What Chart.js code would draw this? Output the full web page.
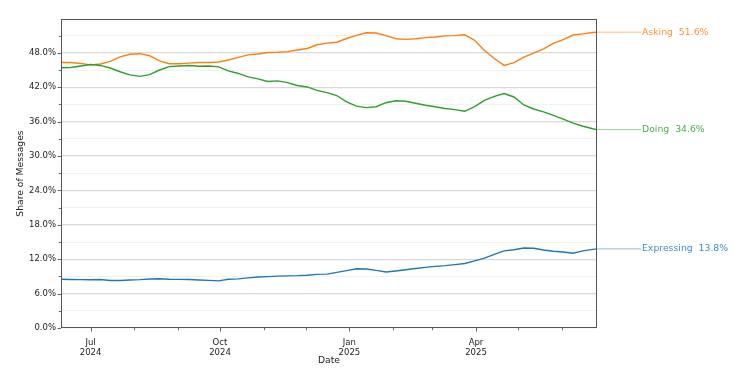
<!DOCTYPE html>
<html><head><meta charset="utf-8">
<style>html,body{margin:0;padding:0;background:#fff}#wrap{width:740px;height:377px}</style>
<script src="https://cdn.jsdelivr.net/npm/chart.js@4.4.1/dist/chart.umd.min.js"></script>
</head><body><div id="wrap"><canvas id="c" width="740" height="377"></canvas></div>
<script>
const dates = [
 '2024-06-10','2024-06-17','2024-06-24','2024-07-01','2024-07-08','2024-07-15','2024-07-22','2024-07-29',
 '2024-08-05','2024-08-12','2024-08-19','2024-08-26','2024-09-02','2024-09-09','2024-09-16','2024-09-23','2024-09-30',
 '2024-10-07','2024-10-14','2024-10-21','2024-10-28','2024-11-04','2024-11-11','2024-11-18','2024-11-25',
 '2024-12-02','2024-12-09','2024-12-16','2024-12-23','2024-12-30','2025-01-06','2025-01-13','2025-01-20','2025-01-27',
 '2025-02-03','2025-02-10','2025-02-17','2025-02-24','2025-03-03','2025-03-10','2025-03-17','2025-03-24','2025-03-31',
 '2025-04-07','2025-04-14','2025-04-21','2025-04-28','2025-05-05','2025-05-12','2025-05-19','2025-05-26',
 '2025-06-02','2025-06-09','2025-06-16','2025-06-23','2025-06-26'
];
const asking = [
 46.3,46.3,46.15,45.9,46.05,46.5,47.3,47.75,47.85,47.5,
 46.6,46.1,46.1,46.2,46.3,46.3,46.4,46.75,47.2,47.65,
 47.8,48.05,48.1,48.2,48.5,48.75,49.4,49.7,49.85,50.5,
 51.05,51.5,51.45,51.0,50.45,50.35,50.45,50.65,50.75,50.95,
 51.0,51.15,50.2,48.4,47.0,45.8,46.3,47.25,47.95,48.7,
 49.65,50.3,51.1,51.3,51.55,51.6
];
const doing = [
 45.4,45.45,45.7,45.95,45.8,45.35,44.7,44.15,43.9,44.2,
 45.0,45.6,45.7,45.8,45.65,45.7,45.55,44.85,44.4,43.8,
 43.45,43.0,43.1,42.8,42.3,42.05,41.45,41.05,40.55,39.45,
 38.7,38.45,38.6,39.3,39.65,39.55,39.2,38.85,38.6,38.3,
 38.1,37.8,38.6,39.7,40.4,40.9,40.3,38.9,38.2,37.7,
 37.1,36.45,35.75,35.2,34.75,34.6
];
const expressing = [
 8.5,8.45,8.43,8.42,8.45,8.28,8.28,8.38,8.44,8.55,
 8.58,8.5,8.48,8.45,8.38,8.3,8.22,8.5,8.57,8.75,
 8.9,8.97,9.05,9.1,9.13,9.2,9.35,9.4,9.7,10.0,
 10.33,10.28,10.05,9.78,9.95,10.15,10.37,10.57,10.75,10.88,
 11.05,11.25,11.7,12.2,12.85,13.45,13.65,13.95,13.9,13.6,
 13.4,13.25,13.05,13.45,13.72,13.8
];
const seriesNames = ['Asking','Doing','Expressing'];
const seriesColors = ['#ff7f0e','#2ca02c','#1f77b4'];
const seriesFaded = ['rgba(255,127,14,0.55)','rgba(44,160,44,0.55)','rgba(31,119,180,0.55)'];
const seriesText = ['rgba(255,127,14,0.85)','rgba(44,160,44,0.85)','rgba(31,119,180,0.85)'];
const yTickValues = [0,3,6,9,12,15,18,21,24,27,30,33,36,39,42,45,48,51];
const monthNames = ['Jan','Feb','Mar','Apr','May','Jun','Jul','Aug','Sep','Oct','Nov','Dec'];
const DAY = 86400000;
const toDay = s => { const [Y,M,D] = s.split('-').map(Number); return Date.UTC(Y,M-1,D)/DAY; };
const xs = dates.map(toDay);
const xMin = xs[0], xMax = xs[xs.length-1];
const monthTicks = [];
for (let y = 2024; y <= 2025; y++) for (let m = 0; m < 12; m++) {
  const d = Date.UTC(y,m,1)/DAY;
  if (d >= xMin && d <= xMax) monthTicks.push({value: d, month: m, year: y});
}
const allSeries = [asking, doing, expressing];
const FONT = 'DejaVu Sans';

const framePlugin = {
  id: 'frame',
  afterDraw(chart) {
    const {ctx, chartArea: a, scales: {x, y}} = chart;
    ctx.save();
    ctx.strokeStyle = '#444'; ctx.lineWidth = 0.8;
    ctx.beginPath();
    monthTicks.forEach(t => {
      const px = Math.round(x.getPixelForValue(t.value)) + 0.5;
      const len = (t.month % 3 === 0) ? 3.5 : 2.2;
      ctx.moveTo(px, a.bottom); ctx.lineTo(px, a.bottom + len);
    });
    yTickValues.forEach(v => {
      const py = Math.round(y.getPixelForValue(v)) + 0.5;
      const len = (v % 6 === 0) ? 3.5 : 2.2;
      ctx.moveTo(a.left, py); ctx.lineTo(a.left - len, py);
    });
    ctx.stroke();
    ctx.strokeStyle = '#555'; ctx.lineWidth = 1;
    ctx.strokeRect(Math.round(a.left)+0.5, Math.round(a.top)+0.5, Math.round(a.width)-1, Math.round(a.height)-1);
    // end labels
    ctx.font = '9.3px "' + FONT + '"';
    ctx.textBaseline = 'middle'; ctx.textAlign = 'left';
    allSeries.forEach((s, i) => {
      const v = s[s.length-1];
      const py = y.getPixelForValue(v);
      ctx.strokeStyle = seriesFaded[i]; ctx.lineWidth = 0.9;
      ctx.beginPath(); ctx.moveTo(a.right, py); ctx.lineTo(a.right + 44, py); ctx.stroke();
      ctx.fillStyle = seriesText[i];
      ctx.fillText(seriesNames[i] + '  ' + v.toFixed(1) + '%', a.right + 45, py);
    });
    ctx.restore();
  }
};

new Chart(document.getElementById('c'), {
  type: 'line',
  data: {
    datasets: allSeries.map((s, i) => ({
      label: seriesNames[i],
      data: s.map((v, j) => ({x: xs[j], y: v})),
      borderColor: seriesColors[i],
      borderWidth: 1.4,
      pointRadius: 0,
      tension: 0,
      fill: false
    })).reverse()
  },
  options: {
    responsive: false,
    animation: false,
    devicePixelRatio: 1,
    layout: {padding: {top: 19, right: 143, left: 0, bottom: 0}},
    plugins: {legend: {display: false}, tooltip: {enabled: false}},
    scales: {
      x: {
        type: 'linear', min: xMin, max: xMax,
        grid: {display: false},
        border: {display: false},
        afterBuildTicks: sc => { sc.ticks = monthTicks.map(t => ({value: t.value})); },
        afterFit: sc => { sc.height = 49; },
        ticks: {
          autoSkip: false, maxRotation: 0, padding: 2,
          color: '#222', font: {family: FONT, size: 8.5, lineHeight: 1.15},
          callback: (val) => {
            const t = monthTicks.find(m => m.value === val);
            if (!t || t.month % 3 !== 0) return '';
            return [monthNames[t.month], String(t.year)];
          }
        },
        title: {display: true, text: 'Date', color: '#222', font: {family: FONT, size: 9.2, lineHeight: 1.2}, padding: {top: 0, bottom: 10.5}}
      },
      y: {
        type: 'linear', min: 0, max: 53.9,
        afterBuildTicks: sc => { sc.ticks = yTickValues.map(v => ({value: v})); },
        afterFit: sc => { sc.width = 61; },
        border: {display: false},
        grid: {
          drawTicks: false,
          color: c => (c.tick && c.tick.value % 6 === 0) ? '#d9d9d9' : '#efefef',
          lineWidth: c => (c.tick && c.tick.value % 6 === 0) ? 1.3 : 0.9
        },
        ticks: {
          padding: 5, color: '#222', font: {family: FONT, size: 8.5},
          callback: v => (v % 6 === 0) ? v.toFixed(1) + '%' : ''
        },
        title: {display: true, text: 'Share of Messages', color: '#222', font: {family: FONT, size: 9.2, lineHeight: 1.2}, padding: {top: 15.5, bottom: 0}}
      }
    }
  },
  plugins: [framePlugin]
});
</script>
</body></html>
